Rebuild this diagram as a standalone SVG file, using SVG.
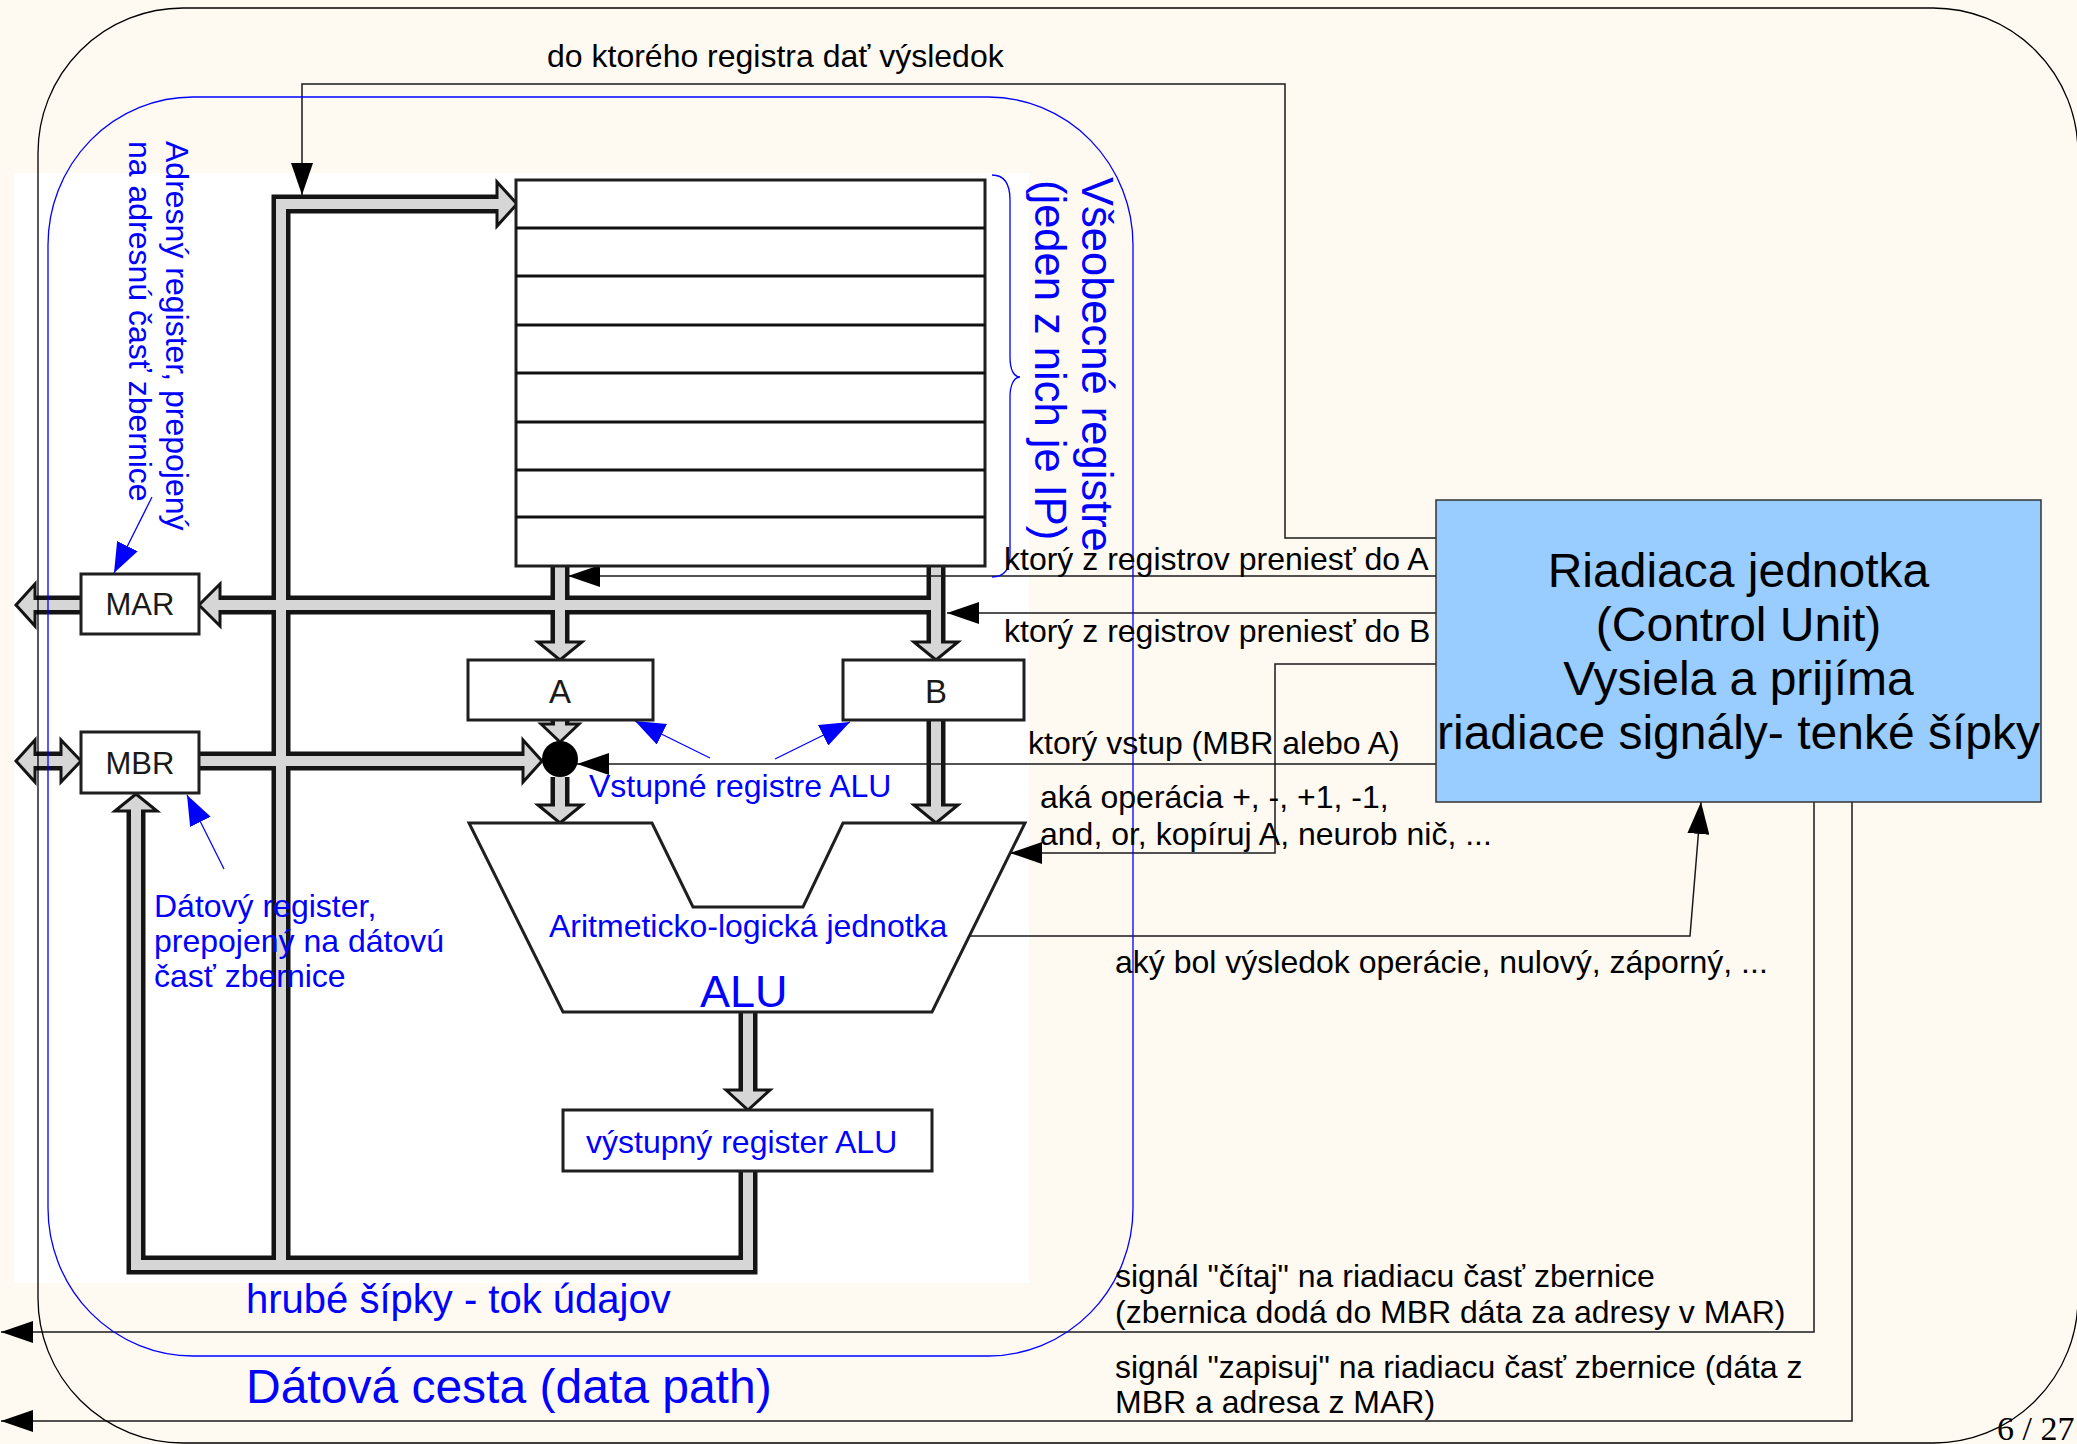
<svg xmlns="http://www.w3.org/2000/svg" width="2077" height="1444" viewBox="0 0 2077 1444">
<defs>
<style>
text { font-family: "Liberation Sans", Arial, sans-serif; }
.lbl { font-size: 32px; fill: #000; }
.bl { font-size: 32px; fill: #0000ff; }
.reg { fill: #fff; stroke: #1f1f1f; stroke-width: 3; }
.rline { stroke: #111; stroke-width: 3; }
.regtxt { font-size: 31px; fill: #1a1a1a; text-anchor: middle; }
.bus-o { fill: none; stroke: #141414; stroke-width: 19; stroke-linejoin: miter; stroke-linecap: butt; }
.bus-i { fill: none; stroke: #d6d6d6; stroke-width: 10; stroke-linejoin: miter; stroke-linecap: butt; }
.head { fill: #d6d6d6; stroke: #141414; stroke-width: 3; stroke-linejoin: miter; }
.thin { fill: none; stroke: #1a1a1a; stroke-width: 1.5; }
.bthin { fill: none; stroke: #0000ff; stroke-width: 1.3; }
.cu { font-size: 48px; fill: #000; text-anchor: middle; }
.big { font-size: 43.5px; fill: #0000ff; }
</style>
<marker id="ah" markerUnits="userSpaceOnUse" markerWidth="32" markerHeight="22" refX="32" refY="11" orient="auto">
<path d="M0,0 L32,11 L0,22 z" fill="#000"/>
</marker>
<marker id="bh" markerUnits="userSpaceOnUse" markerWidth="30" markerHeight="23" refX="30" refY="11.5" orient="auto">
<path d="M0,0 L30,11.5 L0,23 z" fill="#0000ff"/>
</marker>
</defs>

<rect id="background" x="0" y="0" width="2077" height="1444" fill="#fef9f1"/>
<rect id="figure-area" x="14" y="173" width="1015" height="1110" fill="#ffffff"/>

<g id="connectors">
  <g id="bus-heads">
    <polygon class="head" points="497,182 517,204 497,226"/>
    <polygon class="head" points="220,584 199,605 220,626"/>
    <polygon class="head" points="35,584 16,605 35,626"/>
    <polygon class="head" points="35,740 16,761 35,782"/>
    <polygon class="head" points="61,740 81,761 61,782"/>
    <polygon class="head" points="523,740 542,761 523,782"/>
    <polygon class="head" points="538,642 560,660 582,642"/>
    <polygon class="head" points="914,642 936,660 958,642"/>
    <polygon class="head" points="541,724 560,742 579,724"/>
    <polygon class="head" points="538,805 560,823 582,805"/>
    <polygon class="head" points="914,805 936,823 958,805"/>
    <polygon class="head" points="726,1090 748,1110 770,1090"/>
    <polygon class="head" points="115,811 136,794 157,811"/>
  </g>
  <g id="bus-outlines">
    <path class="bus-o" d="M281 1265 V204 H497"/>
    <path class="bus-o" d="M748 1171 V1265 H136 V811"/>
    <path class="bus-o" d="M936 566 V642"/>
    <path class="bus-o" d="M560 566 V642"/>
    <path class="bus-o" d="M936 605 H220"/>
    <path class="bus-o" d="M81 605 H35"/>
    <path class="bus-o" d="M61 761 H35"/>
    <path class="bus-o" d="M199 761 H523"/>
    <path class="bus-o" d="M560 719 V724"/>
    <path class="bus-o" d="M560 777 V805"/>
    <path class="bus-o" d="M936 720 V805"/>
    <path class="bus-o" d="M748 1012 V1090"/>
  </g>
  <g id="bus-fills">
    <path class="bus-i" d="M281 1265 V204 H500"/>
    <path class="bus-i" d="M748 1171 V1265 H136 V808"/>
    <path class="bus-i" d="M936 566 V645"/>
    <path class="bus-i" d="M560 566 V645"/>
    <path class="bus-i" d="M936 605 H217"/>
    <path class="bus-i" d="M81 605 H32"/>
    <path class="bus-i" d="M64 761 H32"/>
    <path class="bus-i" d="M199 761 H526"/>
    <path class="bus-i" d="M560 719 V727"/>
    <path class="bus-i" d="M560 777 V808"/>
    <path class="bus-i" d="M936 720 V808"/>
    <path class="bus-i" d="M748 1012 V1093"/>
  </g>
  <g id="control-signals">
    <path class="thin" d="M1436 538 H1285 V84 H302 V195" marker-end="url(#ah)"/>
    <path class="thin" d="M1436 576 H568" marker-end="url(#ah)"/>
    <path class="thin" d="M1436 613 H947" marker-end="url(#ah)"/>
    <path class="thin" d="M1436 664 H1275 V853 H1010" marker-end="url(#ah)"/>
    <path class="thin" d="M1436 764 H577" marker-end="url(#ah)"/>
    <path class="thin" d="M969 936 H1690 L1701 802" marker-end="url(#ah)"/>
    <path class="thin" d="M1814 802 V1332 H1" marker-end="url(#ah)"/>
    <path class="thin" d="M1852 802 V1421 H1" marker-end="url(#ah)"/>
  </g>
  <g id="annotation-arrows">
    <path class="bthin" d="M152 497 L114 573" marker-end="url(#bh)"/>
    <path class="bthin" d="M224 869 L187 795" marker-end="url(#bh)"/>
    <path class="bthin" d="M710 758 L635 721" marker-end="url(#bh)"/>
    <path class="bthin" d="M775 759 L850 722" marker-end="url(#bh)"/>
  </g>
</g>

<g id="register-file">
  <rect class="reg" x="516" y="180" width="469" height="386"/>
  <line class="rline" x1="516" y1="228" x2="985" y2="228"/>
  <line class="rline" x1="516" y1="276" x2="985" y2="276"/>
  <line class="rline" x1="516" y1="325" x2="985" y2="325"/>
  <line class="rline" x1="516" y1="373" x2="985" y2="373"/>
  <line class="rline" x1="516" y1="422" x2="985" y2="422"/>
  <line class="rline" x1="516" y1="470" x2="985" y2="470"/>
  <line class="rline" x1="516" y1="517" x2="985" y2="517"/>
</g>

<g id="MAR">
  <rect class="reg" x="81" y="574" width="118" height="60"/>
  <text class="regtxt" x="140" y="615">MAR</text>
</g>
<g id="MBR">
  <rect class="reg" x="81" y="732" width="118" height="61"/>
  <text class="regtxt" x="140" y="774">MBR</text>
</g>
<g id="reg-A">
  <rect class="reg" x="468" y="660" width="185" height="60"/>
  <text class="regtxt" x="560" y="703" style="font-size:33px">A</text>
</g>
<g id="reg-B">
  <rect class="reg" x="843" y="660" width="181" height="60"/>
  <text class="regtxt" x="936" y="703" style="font-size:33px">B</text>
</g>
<g id="mux">
  <circle cx="560" cy="759" r="18" fill="#000"/>
</g>
<g id="ALU">
  <polygon class="reg" points="469,823 652,823 693,907 803,907 843,823 1025,823 932,1012 563,1012"/>
  <text class="bl" x="549" y="937">Aritmeticko-logická jednotka</text>
  <text x="700" y="1007" style="font-size:45px;fill:#0000ff">ALU</text>
</g>
<g id="output-register">
  <rect class="reg" x="563" y="1110" width="369" height="61"/>
  <text class="bl" x="586" y="1153">výstupný register ALU</text>
</g>

<g id="control-unit">
  <rect x="1436" y="500" width="605" height="302" fill="#99ccff" stroke="#333" stroke-width="1.5"/>
  <text class="cu" x="1738.5" y="587">Riadiaca jednotka</text>
  <text class="cu" x="1738.5" y="641">(Control Unit)</text>
  <text class="cu" x="1738.5" y="695">Vysiela a prijíma</text>
  <text class="cu" x="1738.5" y="749">riadiace signály- tenké šípky</text>
</g>

<g id="frames">
  <rect x="38" y="8" width="2040" height="1435" rx="145" ry="145" fill="none" stroke="#000" stroke-width="1.3"/>
  <rect x="48" y="97" width="1085" height="1259" rx="145" ry="148" fill="none" stroke="#0000ff" stroke-width="1.3"/>
  <path class="bthin" d="M992 175 C1004 175 1010 184 1010 200 L1010 357 C1010 370 1014 377 1020 377 C1014 377 1010 385 1010 397 L1010 555 C1010 570 1004 577 992 577"/>
</g>

<g id="labels">
  <text class="lbl" x="547" y="67">do ktorého registra dať výsledok</text>
  <text class="lbl" x="1004" y="570">ktorý z registrov preniesť do A</text>
  <text class="lbl" x="1004" y="642">ktorý z registrov preniesť do B</text>
  <text class="lbl" x="1028" y="754">ktorý vstup (MBR alebo A)</text>
  <text class="lbl" x="1040" y="808">aká operácia +, -, +1, -1,</text>
  <text class="lbl" x="1040" y="845">and, or, kopíruj A, neurob nič, ...</text>
  <text class="lbl" x="1115" y="973">aký bol výsledok operácie, nulový, záporný, ...</text>
  <text class="lbl" x="1115" y="1287">signál "čítaj" na riadiacu časť zbernice</text>
  <text class="lbl" x="1115" y="1323">(zbernica dodá do MBR dáta za adresy v MAR)</text>
  <text class="lbl" x="1115" y="1378">signál "zapisuj" na riadiacu časť zbernice (dáta z</text>
  <text class="lbl" x="1115" y="1413">MBR a adresa z MAR)</text>

  <text class="bl" transform="translate(166,141) rotate(90)">Adresný register, prepojený</text>
  <text class="bl" transform="translate(129,141) rotate(90)">na adresnú časť zbernice</text>
  <text class="big" transform="translate(1082,177) rotate(90)">Všeobecné registre</text>
  <text class="big" transform="translate(1035,180) rotate(90)">(jeden z nich je IP)</text>

  <text class="bl" x="154" y="917">Dátový register,</text>
  <text class="bl" x="154" y="952">prepojený na dátovú</text>
  <text class="bl" x="154" y="987">časť zbernice</text>
  <text class="bl" x="589" y="797">Vstupné registre ALU</text>
  <text x="246" y="1313" style="font-size:40px;fill:#0000ff">hrubé šípky - tok údajov</text>
  <text x="246" y="1403" style="font-size:48px;fill:#0000ff">Dátová cesta (data path)</text>
  <text x="1997" y="1440" style="font-family:'Liberation Serif','Times New Roman',serif;font-size:34px;fill:#000">6 / 27</text>
</g>
</svg>
